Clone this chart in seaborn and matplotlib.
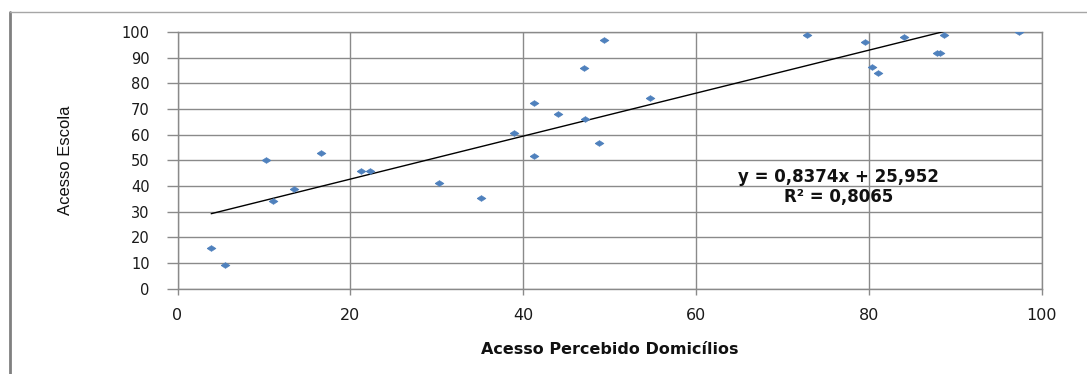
import numpy as np
import pandas as pd
import matplotlib
matplotlib.use("Agg")
import matplotlib.pyplot as plt
from matplotlib.lines import Line2D
import seaborn as sns

# ---- data ----
acesso_domicilios = [3.9, 5.5, 10.2, 11.1, 13.5, 16.6, 21.2, 22.3, 30.2, 35.1,
                     38.9, 41.2, 41.2, 44.0, 47.0, 47.1, 48.7, 49.3, 54.7,
                     72.8, 79.5, 80.3, 81.0, 84.0, 87.9, 88.2, 88.7, 97.3]
acesso_escola = [16.0, 9.3, 50.0, 34.0, 39.0, 53.0, 46.0, 46.0, 41.0, 35.2,
                 60.5, 72.3, 51.5, 68.0, 85.8, 66.2, 56.7, 96.7, 74.4,
                 98.8, 96.0, 86.3, 84.2, 98.0, 92.0, 92.0, 98.8, 100.0]
trend_slope = 0.8374
trend_intercept = 25.952
r_squared = 0.8065
x_ticks = [0, 20, 40, 60, 80, 100]
y_ticks = [0, 10, 20, 30, 40, 50, 60, 70, 80, 90, 100]
x_label = "Acesso Percebido Domicílios"
y_label = "Acesso Escola"

df = pd.DataFrame({"x": acesso_domicilios, "y": acesso_escola})

sns.set_theme(style="white")
plt.rcParams["font.family"] = ["DejaVu Sans"]

W, H = 1087, 374
fig = plt.figure(figsize=(W / 100, H / 100), dpi=100)
L, R, T, B = 177.5, 1042, 32, 288.7
ax = fig.add_axes([L / W, 1 - B / H, (R - L) / W, (B - T) / H])

grid_c = "#8a8a8a"
flat_diamond = [(-1, 0), (0, 0.65), (1, 0), (0, -0.65), (-1, 0)]
sns.scatterplot(data=df, x="x", y="y", ax=ax, marker=flat_diamond, s=40,
                color="#4f81bd", edgecolor="#4f81bd", linewidth=0.5, zorder=4)

xfit = np.array([min(acesso_domicilios), max(acesso_domicilios)])
yfit = trend_slope * xfit + trend_intercept
sns.lineplot(x=xfit, y=yfit, ax=ax, color="black", linewidth=1.0, zorder=3)

ax.set_xlim(0, 100)
ax.set_ylim(0, 100)
ax.set_xticks(x_ticks)
ax.set_yticks(y_ticks)
ax.grid(True, color=grid_c, linewidth=1.0)
ax.set_axisbelow(True)
for s in ax.spines.values():
    s.set_visible(True)
    s.set_color(grid_c)
    s.set_linewidth(1.0)

ax.tick_params(axis="y", which="major", left=True, length=8, width=1.0,
               color=grid_c, pad=12, labelsize=10.5, labelcolor="#1a1a1a")
ax.tick_params(axis="x", which="major", bottom=True, length=4, width=1.0,
               color=grid_c, pad=10, labelsize=11.5, labelcolor="#1a1a1a")

ax.set_xlabel(x_label, fontsize=11.5, fontweight="bold", color="#111111", va="center")
ax.xaxis.set_label_coords(0.5, (B - 349) / (B - T))
ax.set_ylabel(y_label, fontsize=12, color="#111111", va="center", ha="center",
              family=["Liberation Sans", "DejaVu Sans"])
ax.yaxis.set_label_coords((66 - L) / (R - L), 0.5)

ax.text(76.5, 43.7, f"y = {str(trend_slope).replace('.', ',')}x + {str(trend_intercept).replace('.', ',')}",
        ha="center", va="center", fontsize=12, fontweight="bold", color="#111111", zorder=5)
ax.text(76.5, 35.9, f"R² = {str(r_squared).replace('.', ',')}",
        ha="center", va="center", fontsize=12, fontweight="bold", color="#111111", zorder=5)

# outer chart frame (top and left edges visible)
fig.add_artist(Line2D([10 / W, 10 / W], [0, 1 - 12 / H], color="#808080", linewidth=2.0))
fig.add_artist(Line2D([10 / W, 1], [1 - 12 / H, 1 - 12 / H], color="#a6a6a6", linewidth=1.0))

fig.savefig("out.png", dpi=100)
